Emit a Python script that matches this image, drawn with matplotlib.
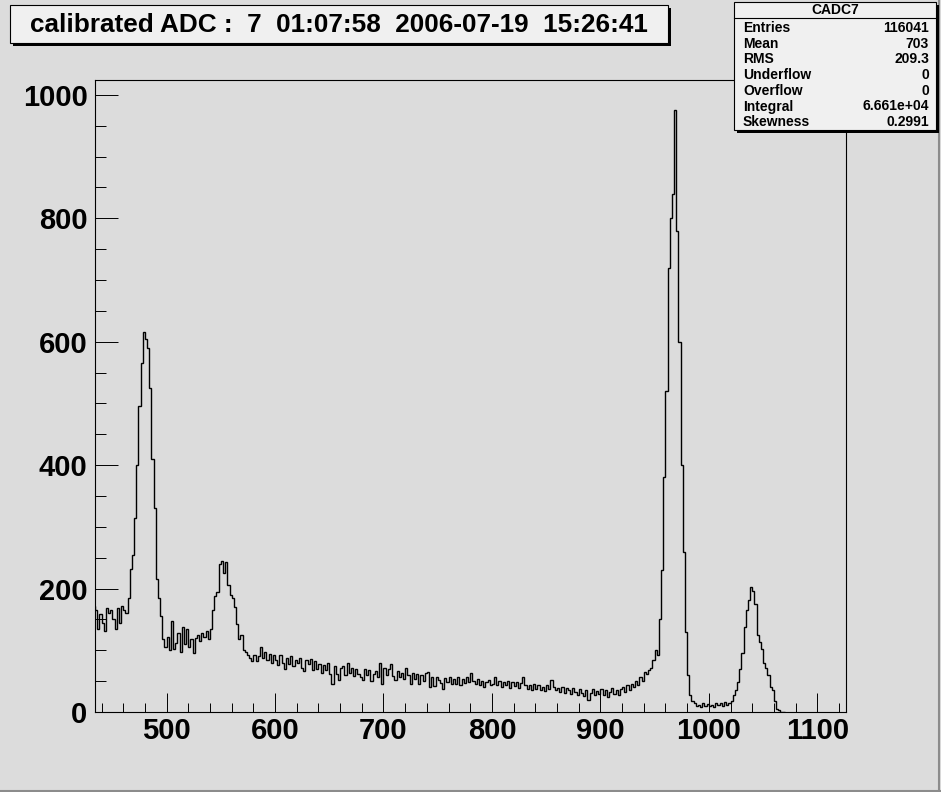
import numpy as np
import matplotlib
matplotlib.use("Agg")
import matplotlib.pyplot as plt
from matplotlib.patches import Rectangle
from matplotlib.lines import Line2D
from matplotlib.ticker import MultipleLocator

plt.rcParams['font.family'] = ['Liberation Sans', 'DejaVu Sans']
plt.rcParams['font.weight'] = 'bold'

# histogram CADC7, 2-count bins, first bin starts at 430 (one row = 10 counts)
bin_start = 430
bin_width = 2
counts = [
    170, 172, 165, 135, 158,   # 430
    145, 132, 168, 160, 165,   # 440
    150, 135, 168, 145, 172,   # 450
    165, 160, 185, 231, 255,   # 460
    315, 400, 495, 565, 615,   # 470
    605, 590, 525, 410, 330,   # 480
    215, 185, 155, 118, 105,   # 490
    122, 100, 148, 102, 112,   # 500
    128, 98, 138, 110, 135,    # 510
    105, 118, 95, 120, 125,    # 520
    115, 128, 122, 132, 118,   # 530
    135, 165, 188, 195, 240,   # 540
    245, 225, 243, 205, 190,   # 550
    185, 170, 142, 118, 125,   # 560
    100, 97, 92, 88, 82,       # 570
    92, 82, 90, 105, 88,       # 580
    98, 84, 94, 80, 92,        # 590
    84, 76, 92, 80, 70,        # 600
    88, 78, 90, 74, 84,        # 610
    80, 88, 72, 66, 84,        # 620
    78, 86, 68, 82, 70,        # 630
    78, 64, 76, 68, 80,        # 640
    62, 46, 74, 62, 52,        # 650
    72, 75, 60, 80, 64,        # 660
    72, 58, 70, 62, 56,        # 670
    52, 70, 60, 68, 50,        # 680
    62, 66, 56, 80, 46,        # 690
    72, 60, 70, 77, 58,        # 700
    52, 66, 56, 63, 54,        # 710
    71, 60, 46, 64, 54,        # 720
    62, 45, 60, 50, 63,        # 730
    65, 40, 56, 42, 57,        # 740
    52, 47, 38, 55, 49,        # 750
    57, 45, 53, 46, 56,        # 760
    44, 53, 47, 57, 49,        # 770
    64, 50, 45, 53, 43,        # 780
    51, 41, 49, 52, 43,        # 790
    46, 56, 43, 51, 41,        # 800
    49, 43, 51, 39, 48,        # 810
    42, 49, 39, 47, 57,        # 820
    44, 37, 43, 35, 45,        # 830
    38, 43, 35, 41, 34,        # 840
    43, 37, 52, 40, 35,        # 850
    39, 33, 41, 31, 39,        # 860
    35, 29, 39, 33, 28,        # 870
    37, 31, 26, 35, 19,        # 880
    30, 37, 27, 34, 29,        # 890
    37, 27, 35, 24, 33,        # 900
    39, 29, 36, 27, 37,        # 910
    41, 33, 43, 35, 46,        # 920
    40, 51, 43, 56, 50,        # 930
    65, 62, 68, 72, 85,        # 940
    100, 92, 150, 230, 380,    # 950
    520, 720, 800, 840, 975,   # 960
    780, 600, 400, 260, 130,   # 970
    60, 28, 18, 14, 10,        # 980
    12, 8, 15, 10, 13,         # 990
    9, 12, 8, 14, 11,          # 1000
    15, 10, 16, 12, 14,        # 1010
    18, 28, 35, 48, 70,        # 1020
    95, 138, 165, 181, 203,    # 1030
    196, 175, 125, 114, 102,   # 1040
    80, 71, 60, 40, 36,        # 1050
    18, 5, 3, 0, 0,            # 1060
]

title = "calibrated ADC :  7  01:07:58  2006-07-19  15:26:41"
stats_name = "CADC7"
stats_labels = ["Entries", "Mean", "RMS", "Underflow", "Overflow", "Integral", "Skewness"]
stats_values = ["116041", "703", "209.3", "0", "0", "6.661e+04", "0.2991"]

bg = '#dcdcdc'
box_fill = '#f0f0f0'
W, H = 941, 792

fig = plt.figure(figsize=(W / 100, H / 100), dpi=100, facecolor=bg)
ax = fig.add_axes([94.5 / W, 1 - 712 / H, (846 - 94.5) / W, (712 - 80) / H])
ax.set_facecolor(bg)

edges = bin_start + bin_width * np.arange(len(counts) + 1)
ax.stairs(counts, edges, color='black', lw=1.0, baseline=0)

ax.set_xlim(433.5, 1126.5)
ax.set_ylim(0, 1024)
ax.xaxis.set_major_locator(MultipleLocator(100))
ax.xaxis.set_minor_locator(MultipleLocator(20))
ax.yaxis.set_major_locator(MultipleLocator(200))
ax.yaxis.set_minor_locator(MultipleLocator(50))
ax.tick_params(axis='x', which='major', direction='in', length=13.7, width=0.7, pad=3.5, labelsize=21)
ax.tick_params(axis='x', which='minor', direction='in', length=6.8, width=0.7)
ax.tick_params(axis='y', which='major', direction='in', length=16.2, width=0.7, pad=5, labelsize=21)
ax.tick_params(axis='y', which='minor', direction='in', length=8.1, width=0.7)
for s in ax.spines.values():
    s.set_linewidth(0.8)


def shadow_box(x0, y0, x1, y1):
    # pixel coords measured from the top-left corner
    fx0, fy0 = x0 / W, 1 - y1 / H
    w, h = (x1 - x0) / W, (y1 - y0) / H
    fig.add_artist(Rectangle((fx0 + 3 / W, fy0 - 3 / H), w, h, transform=fig.transFigure,
                             fc='black', ec='none', zorder=5))
    fig.add_artist(Rectangle((fx0, fy0), w, h, transform=fig.transFigure,
                             fc=box_fill, ec='black', lw=0.8, zorder=6))


# title box
shadow_box(10, 5, 668, 43)
fig.text(339 / W, 1 - 25 / H, title, ha='center', va='center', fontsize=18.8, zorder=7)

# stats box
shadow_box(734, 2, 936, 130)
fig.add_artist(Line2D([734 / W, 936 / W], [1 - 18 / H, 1 - 18 / H], transform=fig.transFigure,
                      color='black', lw=0.8, zorder=7))
fig.text(835 / W, 1 - 10 / H, stats_name, ha='center', va='center', fontsize=10, zorder=7)
for i, (lab, val) in enumerate(zip(stats_labels, stats_values)):
    yy = 1 - (28 + 15.7 * i) / H
    fig.text(743 / W, yy, lab, ha='left', va='center', fontsize=10, zorder=7)
    fig.text(929 / W, yy, val, ha='right', va='center', fontsize=10, zorder=7)

# canvas bevel
fig.add_artist(Line2D([938.5 / W, 938.5 / W], [0, 1], transform=fig.transFigure, color='#8c8c8c', lw=1.5))
fig.add_artist(Line2D([0, 1], [1.5 / H, 1.5 / H], transform=fig.transFigure, color='#8c8c8c', lw=1.5))

fig.savefig('out.png', dpi=100, facecolor=bg)
